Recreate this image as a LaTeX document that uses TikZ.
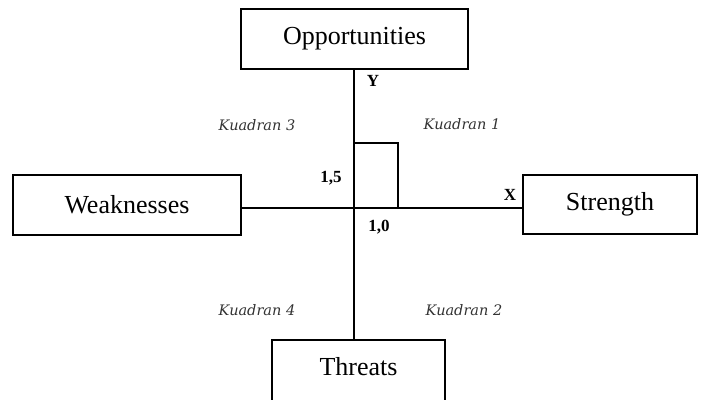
\documentclass[tikz,border=0pt]{standalone}
\usepackage{fontspec}
\setmainfont{Liberation Serif}
\newfontfamily\kfont{DejaVu Serif}
\begin{document}
\begin{tikzpicture}[x=1pt,y=-1pt,
  swotbox/.style={draw=black,line width=2pt,inner sep=0pt,font=\fontsize{26}{28}\selectfont},
  axis/.style={draw=black,line width=2pt},
  kuad/.style={font=\kfont\itshape\fontsize{14.5}{16}\selectfont,text=black!80,inner sep=0pt},
  axlab/.style={font=\bfseries\fontsize{17}{19}\selectfont,inner sep=0pt}]
\useasboundingbox (0,0) rectangle (701,399);
\begin{scope}
\clip (0,0) rectangle (701,399);
\node[swotbox,minimum width=227pt,minimum height=60pt] (opp) at (354.5,39) {Opportunities};
\node[swotbox,minimum width=228pt,minimum height=60pt] (weak) at (127,205) {Weaknesses};
\node[swotbox,minimum width=174pt,minimum height=59pt] (str) at (610,204.5) {Strength};
\node[swotbox,minimum width=173pt,minimum height=62pt] (thr) at (358.5,371) {};
\node[font=\fontsize{26}{28}\selectfont,inner sep=0pt] (thrtext) at (358.5,367) {Threats};
\coordinate (o) at (354,208);
\coordinate (sq) at (398,143);
\draw[axis] (weak.east |- o) -- (str.west |- o);
\draw[axis] (opp.south -| o) -- (thr.north -| o);
\draw[axis] (o) rectangle (sq);
\node[axlab] (ylab) at (373,81) {Y};
\node[axlab] (xlab) at (510,195) {X};
\node[axlab] (l15) at (331,178) {1,5};
\node[axlab] (l10) at (379,227) {1,0};
\node[kuad] (k1) at (462,124) {Kuadran 1};
\node[kuad] (k3) at (257,125) {Kuadran 3};
\node[kuad] (k4) at (257,310) {Kuadran 4};
\node[kuad] (k2) at (464,310) {Kuadran 2};
\end{scope}
\end{tikzpicture}
\end{document}
